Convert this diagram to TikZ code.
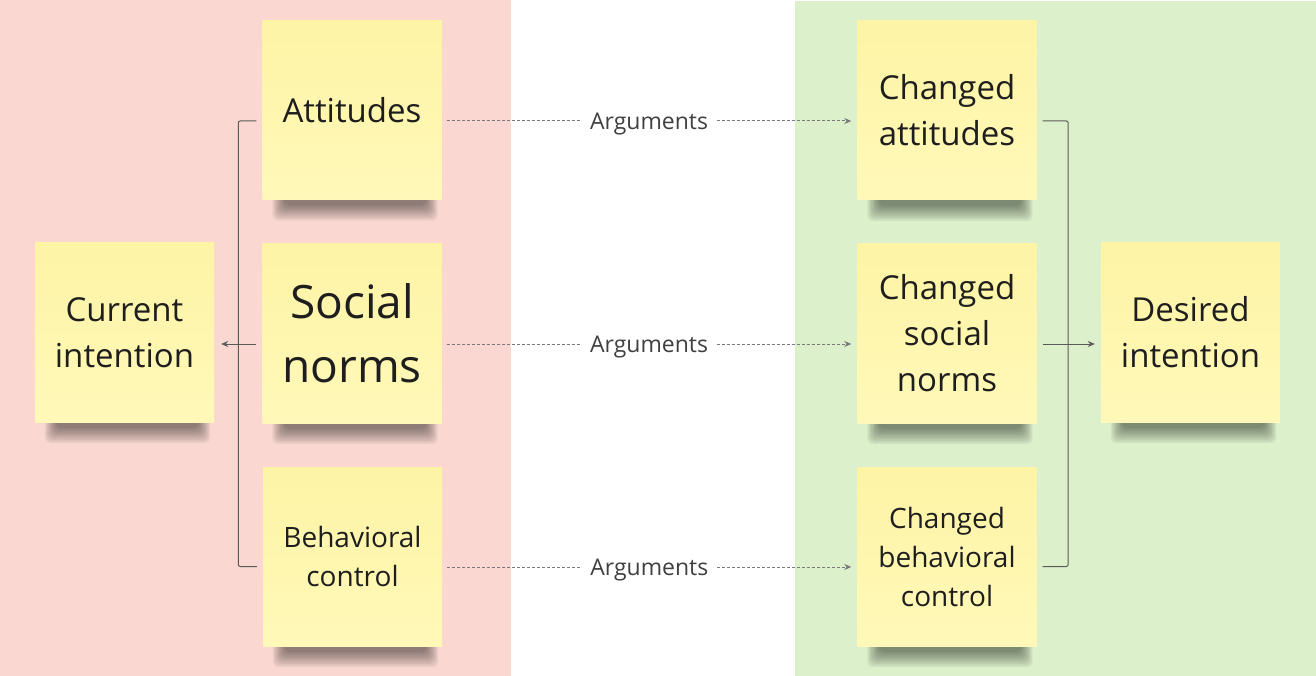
\documentclass[tikz,border=0pt]{standalone}
\usepackage{fontspec}
\setmainfont{Open Sans}
\usetikzlibrary{arrows.meta,calc}
\definecolor{pinkbg}{HTML}{FAD7D1}
\definecolor{greenbg}{HTML}{DCF0CB}
\definecolor{stickytop}{HTML}{FEF4A6}
\definecolor{stickybot}{HTML}{FFF8B8}
\definecolor{ink}{HTML}{1E1E1E}
\definecolor{linec}{HTML}{5A5A5A}
\definecolor{dotc}{HTML}{7A7A7A}
\newcommand{\tbig}{\fontsize{33}{46}\selectfont}
\newcommand{\thuge}{\fontsize{46}{64}\selectfont}
\newcommand{\tmid}{\fontsize{28}{39}\selectfont}
\newcommand{\targ}{\fontsize{23}{28}\selectfont}
\newcommand{\noteshadow}[1]{%
  \foreach \i in {0,...,9}{%
    \fill[black, opacity=0.05, rounded corners=6pt]
      ($(#1.south west)+(10+1.3*\i,-10)$) rectangle ($(#1.south east)+(-4-1.3*\i,21-1.7*\i)$);
  }%
}
\pgfdeclarelayer{shad}
\pgfsetlayers{shad,main}
\tikzset{
  note/.style={top color=stickytop, bottom color=stickybot, minimum width=179pt, minimum height=179pt, inner sep=0pt,
    align=center, text=ink},
  conn/.style={draw=linec, line width=1pt, rounded corners=2pt},
  connarrow/.style={draw=linec, line width=1pt, -{Stealth[length=7pt,width=6pt]}},
  dotarrow/.style={draw=dotc, line width=1pt, dash pattern=on 3pt off 2pt,
    -{Stealth[length=7pt,width=6pt,sep=0pt]}},
  arglab/.style={fill=white, text=ink!85, font=\targ, inner xsep=8pt, inner ysep=2pt, yshift=-3pt}
}
\begin{document}
\begin{tikzpicture}[x=1pt,y=-1pt]
\useasboundingbox (0,0) rectangle (1316,676);

\node[note, font=\tbig] (cur) at (124.5,332.5) {Current\\intention};
\node[note, font=\tbig] (att) at (352,110) {Attitudes};
\node[note, font=\thuge] (sn) at (352,333.5) {Social\\norms};
\node[note, font=\tmid] (bc) at (352.5,556.5) {Behavioral\\control};
\node[note, font=\tbig] (catt) at (947,110.5) {Changed\\attitudes};
\node[note, font=\tbig] (csn) at (947,333.5) {Changed\\social\\norms};
\node[note, font=\tmid] (cbc) at (947,556.5) {Changed\\behavioral\\control};
\node[note, font=\tbig] (des) at (1190.5,332.5) {Desired\\intention};

\begin{pgfonlayer}{shad}
\fill[pinkbg] (0,0) rectangle (511,676);
\fill[greenbg] (795,1) rectangle (1316,676);
\noteshadow{cur}\noteshadow{att}\noteshadow{sn}\noteshadow{bc}
\noteshadow{catt}\noteshadow{csn}\noteshadow{cbc}\noteshadow{des}
\end{pgfonlayer}

% left bracket
\draw[conn] ($(att.west)+(-6,11)$) -| ($(bc.west)+(-24.5,10)$) -- ($(bc.west)+(-6,10)$);
\draw[connarrow] ($(sn.west)+(-6,10.5)$) -- ($(cur.east)+(7,11.5)$);

% right bracket
\draw[conn] ($(catt.east)+(6,10.5)$) -| ($(cbc.east)+(31.5,10)$) -- ($(cbc.east)+(6,10)$);
\draw[connarrow] ($(csn.east)+(6,10.5)$) -- ($(des.west)+(-6,11.5)$);

% arguments
\draw[dotarrow] ($(att.east)+(5,11)$) -- node[arglab] (a1) {Arguments} ($(catt.west)+(-6,10.5)$);
\draw[dotarrow] ($(sn.east)+(5,10.5)$) -- node[arglab] (a2) {Arguments} ($(csn.west)+(-6,10.5)$);
\draw[dotarrow] ($(bc.east)+(5,10.5)$) -- node[arglab] (a3) {Arguments} ($(cbc.west)+(-6,10.5)$);
\end{tikzpicture}
\end{document}
